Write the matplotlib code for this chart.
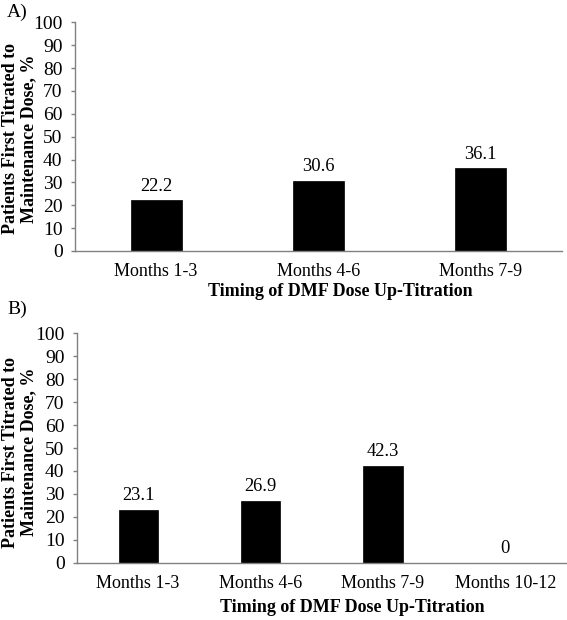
""" Bar charts of first titration to maintenance dose (panels A and B) """

import matplotlib
matplotlib.use('Agg')
from matplotlib import pyplot as plt

plt.rcParams['font.family'] = ['Liberation Serif', 'DejaVu Serif']

# data
cats_a = ['Months 1-3', 'Months 4-6', 'Months 7-9']
vals_a = [22.2, 30.6, 36.1]

cats_b = ['Months 1-3', 'Months 4-6', 'Months 7-9', 'Months 10-12']
vals_b = [23.1, 26.9, 42.3, 0]

yticks = list(range(0, 101, 10))
ylab = 'Patients First Titrated to\nMaintenance Dose, %'
xlab = 'Timing of DMF Dose Up-Titration'

W, H = 567, 620
fig = plt.figure(figsize=(W / 100, H / 100), dpi=100)


def px_axes(x0, y0, x1, y1):
    """ axes from pixel box (left, top, right, bottom) """
    return fig.add_axes([x0 / W, 1 - y1 / H, (x1 - x0) / W, (y1 - y0) / H])


def draw_panel(ax, cats, vals, barw):
    """ one Excel style bar panel """
    xs = list(range(len(cats)))
    ax.bar(xs, vals, width=barw, color='black', edgecolor='black', linewidth=0.5)
    for x, v in zip(xs, vals):
        lab = f'{v:.1f}' if v else '0'
        ax.annotate(lab, (x, v), xytext=(0, 4), textcoords='offset points',
                    ha='center', va='bottom', fontsize=13.3)
    ax.set_xlim(-0.5, len(cats) - 0.5)
    ax.set_ylim(0, 100)
    ax.set_xticks(xs)
    ax.set_xticklabels(cats, fontsize=13)
    ax.set_yticks(yticks)
    ax.set_yticklabels([str(t) for t in yticks], fontsize=14)
    ax.tick_params(axis='x', length=0, pad=9)
    ax.tick_params(axis='y', length=3, width=1, color='#808080', pad=6)
    for side in ['top', 'right']:
        ax.spines[side].set_visible(False)
    for side in ['left', 'bottom']:
        ax.spines[side].set_color('#808080')
        ax.spines[side].set_linewidth(1.0)


# panel A
ax_a = px_axes(75, 22.3, 562, 251)
draw_panel(ax_a, cats_a, vals_a, 0.315)
fig.text(7 / W, 1 - 12 / H, 'A)', fontsize=14, ha='left', va='center')
fig.text(20 / W, 1 - 139 / H, ylab, fontsize=13, fontweight='bold',
         rotation=90, ha='center', va='center', linespacing=1.1)
fig.text(340 / W, 1 - 292 / H, xlab, fontsize=13, fontweight='bold',
         ha='center', va='center')

# panel B
ax_b = px_axes(77, 333.3, 566.5, 562.7)
draw_panel(ax_b, cats_b, vals_b, 0.32)
fig.text(7 / W, 1 - 309 / H, 'B)', fontsize=14, ha='left', va='center')
fig.text(20 / W, 1 - 452 / H, ylab, fontsize=13, fontweight='bold',
         rotation=90, ha='center', va='center', linespacing=1.1)
fig.text(352 / W, 1 - 608 / H, xlab, fontsize=13, fontweight='bold',
         ha='center', va='center')

fig.savefig('out.png', dpi=100)
